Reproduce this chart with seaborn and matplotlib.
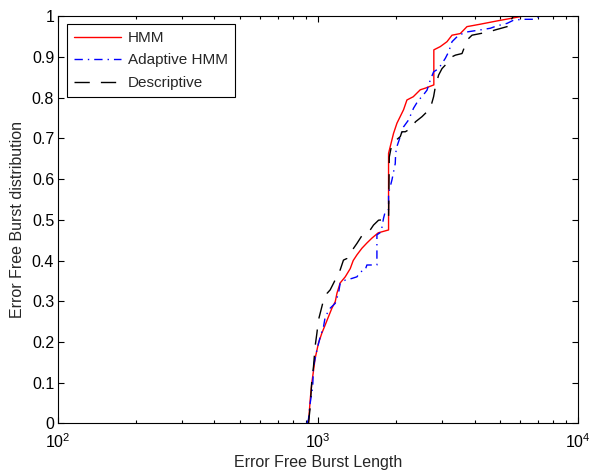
import matplotlib
matplotlib.use("Agg")
import matplotlib.pyplot as plt
import seaborn as sns
import pandas as pd
from matplotlib.ticker import LogLocator, LogFormatterMathtext, NullFormatter

# ---------------- data ----------------
hmm_x = [920, 934, 948, 962, 976, 1005, 1036, 1067, 1098, 1132, 1166, 1184, 1218, 1274,
         1331, 1367, 1413, 1476, 1543, 1613, 1706, 1869, 1869, 1953, 2013, 2134, 2199,
         2326, 2474, 2587, 2790, 2790, 2954, 3134, 3277, 3526, 3741, 4210, 4881, 5491, 6166]
hmm_y = [0.0, 0.058, 0.10, 0.13, 0.16, 0.197, 0.222, 0.242, 0.262, 0.283, 0.299, 0.32, 0.345, 0.36,
         0.38, 0.40, 0.414, 0.43, 0.443, 0.455, 0.468, 0.475, 0.663, 0.712, 0.737, 0.77, 0.794,
         0.802, 0.819, 0.823, 0.831, 0.917, 0.925, 0.937, 0.953, 0.957, 0.974, 0.98, 0.988, 0.994, 1.0]

ahmm_x = [907, 920, 934, 955, 962, 991, 1021, 1051, 1067, 1115, 1166, 1200, 1218, 1274, 1351,
          1413, 1455, 1520, 1543, 1686, 1686, 1750, 1788, 1815, 1869, 1869, 1926, 1983, 1990,
          2013, 2073, 2134, 2231, 2332, 2437, 2512, 2626, 2704, 2784, 2910, 3087, 3180, 3277,
          3474, 3741, 4210, 4599, 4881, 5333, 5655, 6178, 6750, 7161]
ahmm_y = [0.0, 0.01, 0.05, 0.09, 0.14, 0.18, 0.213, 0.237, 0.262, 0.283, 0.295, 0.32, 0.344, 0.352, 0.356,
          0.36, 0.372, 0.377, 0.389, 0.389, 0.463, 0.47, 0.504, 0.52, 0.525, 0.565, 0.598, 0.638, 0.663,
          0.68, 0.704, 0.728, 0.745, 0.774, 0.794, 0.802, 0.818, 0.843, 0.863, 0.871, 0.896, 0.912, 0.937,
          0.953, 0.961, 0.966, 0.97, 0.976, 0.982, 0.99, 0.992, 0.992, 1.0]

desc_x = [920, 934, 948, 962, 976, 991, 1005, 1036, 1051, 1083, 1115, 1148, 1218, 1254, 1293,
          1371, 1413, 1497, 1589, 1636, 1711, 1869, 1881, 1926, 2073, 2104, 2167, 2332, 2367,
          2512, 2704, 2784, 2827, 2910, 2999, 3134, 3277, 3375, 3580, 3686, 3741, 3911, 4210,
          4531, 4808, 5333, 5540, 5540, 5655]
desc_y = [0.0, 0.04, 0.107, 0.14, 0.19, 0.221, 0.254, 0.287, 0.303, 0.319, 0.328, 0.344, 0.377, 0.401, 0.405,
          0.43, 0.442, 0.467, 0.475, 0.487, 0.499, 0.501, 0.654, 0.687, 0.704, 0.716, 0.716, 0.728, 0.74,
          0.753, 0.773, 0.802, 0.826, 0.855, 0.871, 0.884, 0.9, 0.904, 0.908, 0.929, 0.941, 0.953, 0.957,
          0.961, 0.966, 0.974, 0.974, 0.992, 1.0]

series_names = ["HMM", "Adaptive HMM", "Descriptive"]
y_ticks = [0.0, 0.1, 0.2, 0.3, 0.4, 0.5, 0.6, 0.7, 0.8, 0.9, 1.0]
y_tick_labels = ["0", "0.1", "0.2", "0.3", "0.4", "0.5", "0.6", "0.7", "0.8", "0.9", "1"]
x_label = "Error Free Burst Length"
y_label = "Error Free Burst distribution"

# ---------------- style ----------------
sns.set_style("ticks")
plt.rcParams["font.family"] = ["Liberation Sans", "DejaVu Sans"]
plt.rcParams["mathtext.fontset"] = "custom"
plt.rcParams["mathtext.rm"] = "Liberation Sans"
plt.rcParams["mathtext.it"] = "Liberation Sans:italic"
plt.rcParams["mathtext.bf"] = "Liberation Sans:bold"

fig = plt.figure(figsize=(5.90, 4.76), dpi=100)
ax = fig.add_axes([0.0978, 0.1103, 0.882, 0.856])

frames = [
    pd.DataFrame({"x": hmm_x, "y": hmm_y}),
    pd.DataFrame({"x": ahmm_x, "y": ahmm_y}),
    pd.DataFrame({"x": desc_x, "y": desc_y}),
]
colors = ["#ff0000", "#0000ff", "#000000"]
styles = ["-", (0, (6, 3.6, 1, 3.6)), (0, (11, 8))]
for df, name, c, ls in zip(frames, series_names, colors, styles):
    sns.lineplot(data=df, x="x", y="y", ax=ax, estimator=None, sort=False,
                 color=c, linestyle=ls, linewidth=1.0, label=name)

ax.set_xscale("log")
ax.set_xlim(100, 10000)
ax.set_ylim(0, 1)
ax.xaxis.set_major_locator(LogLocator(base=10, numticks=10))
ax.xaxis.set_major_formatter(LogFormatterMathtext())
ax.xaxis.set_minor_locator(LogLocator(base=10, subs=range(2, 10), numticks=20))
ax.xaxis.set_minor_formatter(NullFormatter())
ax.set_yticks(y_ticks)
ax.set_yticklabels(y_tick_labels)

ax.tick_params(axis="both", which="both", direction="in", top=True, right=True,
               colors="black", labelsize=11.5)
ax.tick_params(axis="both", which="major", length=4, width=0.8)
ax.tick_params(axis="x", which="minor", length=2.5, width=0.8)
ax.tick_params(axis="x", which="major", pad=6.5)
ax.tick_params(axis="y", which="major", pad=2.5)
for sp in ax.spines.values():
    sp.set_visible(True)
    sp.set_color("black")
    sp.set_linewidth(0.8)

ax.set_xlabel(x_label, fontsize=11.5, labelpad=3)
ax.set_ylabel(y_label, fontsize=11.5, labelpad=5)

leg = ax.legend(loc="upper left", bbox_to_anchor=(0.0185, 0.980), fontsize=11, frameon=True,
                fancybox=False, edgecolor="black", framealpha=1, handlelength=3.05,
                borderpad=0.45, labelspacing=0.55, handletextpad=0.48, borderaxespad=0)
leg.get_frame().set_linewidth(0.8)

fig.savefig("out.png", dpi=100)
